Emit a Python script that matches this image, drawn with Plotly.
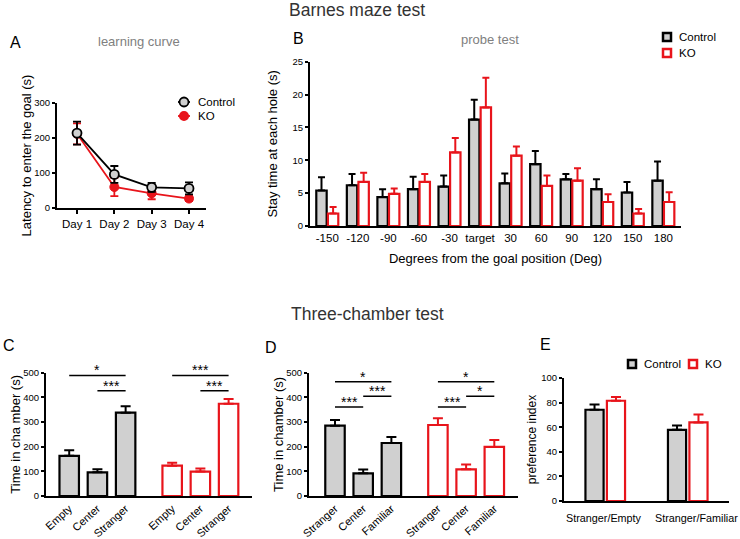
import plotly.graph_objects as go

W, H = 740, 539
FONT = "Arial, Liberation Sans, sans-serif"
RED = "#e8141b"
GREY = "#d0d0d0"

# ---------------- data ----------------
days = ["Day 1", "Day 2", "Day 3", "Day 4"]
a_ctrl = [214, 96, 59, 56]
a_ctrl_err = [33, 24, 13, 17]
a_ko = [212, 60, 42, 27]
a_ko_err = [30, 26, 17, 7]

angles = ["-150", "-120", "-90", "-60", "-30", "target", "30", "60", "90", "120", "150", "180"]
b_ctrl = [5.4, 6.2, 4.4, 5.6, 6.0, 16.2, 6.5, 9.4, 7.1, 5.6, 5.1, 6.9]
b_ctrl_err = [2.0, 1.7, 1.2, 1.9, 1.7, 3.0, 1.5, 2.0, 0.8, 1.5, 1.6, 2.9]
b_ko = [1.9, 6.7, 4.9, 6.7, 11.2, 18.05, 10.7, 6.1, 6.9, 3.65, 1.9, 3.65]
b_ko_err = [1.0, 1.4, 0.8, 1.2, 2.2, 4.5, 1.4, 1.6, 1.9, 1.2, 0.7, 1.5]

c_labels = ["Empty", "Center", "Stranger"]
c_ctrl = [163, 96, 338]
c_ctrl_err = [23, 12, 26]
c_ko = [123, 99, 374]
c_ko_err = [12, 13, 19]
c_sig_ctrl = [(0, 2, "*", 489), (1, 2, "***", 427)]
c_sig_ko = [(0, 2, "***", 489), (1, 2, "***", 427)]

d_labels = ["Stranger", "Center", "Familiar"]
d_ctrl = [285, 92, 215]
d_ctrl_err = [23, 15, 24]
d_ko = [288, 108, 199]
d_ko_err = [27, 20, 28]
d_sig_ctrl = [(0, 2, "*", 463), (1, 2, "***", 404), (0, 1, "***", 361)]
d_sig_ko = [(0, 2, "*", 463), (1, 2, "*", 404), (0, 1, "***", 361)]

e_labels = ["Stranger/Empty", "Stranger/Familiar"]
e_ctrl = [74.2, 57.9]
e_ctrl_err = [4.3, 3.5]
e_ko = [81.5, 63.9]
e_ko_err = [3.0, 6.5]

# ---------------- helpers ----------------
def xd(a, b):
    return [a / W, b / W]

def yd(top, bottom):
    return [1 - bottom / H, 1 - top / H]

def px(x):
    return x / W

def py(y):
    return 1 - y / H

def err(arr, color, width=3.5, thick=2):
    return dict(type="data", array=arr, arrayminus=[0] * len(arr), symmetric=False,
                color=color, thickness=thick, width=width)

fig = go.Figure()
shapes = []
annotations = []

# ---------------- Panel A ----------------
xa = list(range(1, len(days) + 1))
fig.add_trace(go.Scatter(
    x=xa, y=a_ko, mode="lines+markers", name="KO", showlegend=False,
    line=dict(color=RED, width=1.8),
    marker=dict(symbol="circle", size=9, color=RED, line=dict(color=RED, width=1)),
    error_y=dict(type="data", array=a_ko_err, color=RED, thickness=1.8, width=4),
    xaxis="x", yaxis="y"))
fig.add_trace(go.Scatter(
    x=xa, y=a_ctrl, mode="lines+markers", name="Control", showlegend=False,
    line=dict(color="black", width=1.8),
    marker=dict(symbol="circle", size=9, color=GREY, line=dict(color="black", width=1.8)),
    error_y=dict(type="data", array=a_ctrl_err, color="black", thickness=1.8, width=4),
    xaxis="x", yaxis="y"))

# ---------------- Panel B ----------------
xb = list(range(len(angles)))
fig.add_trace(go.Bar(
    x=xb, y=b_ctrl, name="Control", showlegend=False, width=0.34, offset=-0.36,
    marker=dict(color=GREY, line=dict(color="black", width=2.2)),
    error_y=err(b_ctrl_err, "black"), xaxis="x2", yaxis="y2"))
fig.add_trace(go.Bar(
    x=xb, y=b_ko, name="KO", showlegend=False, width=0.34, offset=0.02,
    marker=dict(color="white", line=dict(color=RED, width=2.2)),
    error_y=err(b_ko_err, RED), xaxis="x2", yaxis="y2"))

# ---------------- Panel C / D ----------------
GROUP_SHIFT = 3.65
BW = 0.69

def three_chamber(labels, ctrl, ctrl_err, ko, ko_err, xax, yax):
    pc = list(range(len(labels)))
    pk = [p + GROUP_SHIFT for p in pc]
    fig.add_trace(go.Bar(
        x=pc, y=ctrl, showlegend=False, width=BW, offset=-BW / 2,
        marker=dict(color=GREY, line=dict(color="black", width=2.2)),
        error_y=err(ctrl_err, "black", width=5), xaxis=xax, yaxis=yax))
    fig.add_trace(go.Bar(
        x=pk, y=ko, showlegend=False, width=BW, offset=-BW / 2,
        marker=dict(color="white", line=dict(color=RED, width=2.2)),
        error_y=err(ko_err, RED, width=5), xaxis=xax, yaxis=yax))
    return pc + pk, labels + labels

c_tickvals, c_ticktext = three_chamber(c_labels, c_ctrl, c_ctrl_err, c_ko, c_ko_err, "x3", "y3")
d_tickvals, d_ticktext = three_chamber(d_labels, d_ctrl, d_ctrl_err, d_ko, d_ko_err, "x4", "y4")

def add_sig(sigs, shift, xref, yref):
    for a, b, t, lvl in sigs:
        shapes.append(dict(type="line", xref=xref, yref=yref, x0=a + shift, x1=b + shift,
                           y0=lvl, y1=lvl, line=dict(color="black", width=1.5)))
        annotations.append(dict(xref=xref, yref=yref, x=(a + b) / 2 + shift, y=lvl,
                                text=t, showarrow=False, yanchor="bottom", yshift=-5,
                                font=dict(family=FONT, size=14, color="black")))

add_sig(c_sig_ctrl, 0, "x3", "y3")
add_sig(c_sig_ko, GROUP_SHIFT, "x3", "y3")
add_sig(d_sig_ctrl, 0, "x4", "y4")
add_sig(d_sig_ko, GROUP_SHIFT, "x4", "y4")

# ---------------- Panel E ----------------
xe = list(range(len(e_labels)))
fig.add_trace(go.Bar(
    x=xe, y=e_ctrl, name="Control", showlegend=False, width=0.22, offset=-0.24,
    marker=dict(color=GREY, line=dict(color="black", width=2.2)),
    error_y=err(e_ctrl_err, "black", width=5), xaxis="x5", yaxis="y5"))
fig.add_trace(go.Bar(
    x=xe, y=e_ko, name="KO", showlegend=False, width=0.22, offset=0.02,
    marker=dict(color="white", line=dict(color=RED, width=2.2)),
    error_y=err(e_ko_err, RED, width=5), xaxis="x5", yaxis="y5"))
e_label_shift = [-1, 9]
for xi, lab, sh in zip(xe, e_labels, e_label_shift):
    annotations.append(dict(xref="x5", yref="paper", x=xi, y=1 - 518 / H, text=lab,
                            showarrow=False, xanchor="center", yanchor="middle", xshift=sh,
                            font=dict(family=FONT, size=10.8, color="black")))

# ---------------- axes ----------------
ytickfont = dict(family=FONT, size=9.5, color="black")
def ytitle(s, size=13, standoff=0):
    return dict(text=s, font=dict(family=FONT, size=size, color="black"), standoff=standoff)

base_y = dict(showline=True, linecolor="black", linewidth=2, ticks="outside", ticklen=3,
              tickwidth=1.5, tickcolor="black", showgrid=False, zeroline=False,
              tickfont=ytickfont, fixedrange=True, automargin=False)
base_x = dict(showline=True, linecolor="black", linewidth=2, showgrid=False, zeroline=False,
              fixedrange=True, automargin=False)

layout_axes = dict(
    xaxis=dict(base_x, domain=xd(57, 206), range=[0.464, 4.455], tickvals=xa, ticktext=days,
               ticks="outside", ticklen=4, tickwidth=1.5, tickcolor="black", anchor="y",
               tickfont=dict(family=FONT, size=11.5, color="black")),
    yaxis=dict(base_y, domain=yd(103, 208), range=[0, 300], tickvals=[0, 100, 200, 300], anchor="x",
               title=ytitle("Latency to enter the goal (s)", standoff=0)),
    xaxis2=dict(base_x, domain=xd(310, 681), range=[-0.566, 11.578], tickvals=xb, ticktext=angles,
                ticks="", anchor="y2", tickfont=dict(family=FONT, size=11.5, color="black"),
                title=dict(text="Degrees from the goal position (Deg)", standoff=11,
                           font=dict(family=FONT, size=13, color="black"))),
    yaxis2=dict(base_y, domain=yd(61.7, 226), range=[0, 25], tickvals=[0, 5, 10, 15, 20, 25], anchor="x2",
                title=ytitle("Stay time at each hole (s)", standoff=12)),
    xaxis3=dict(base_x, domain=xd(46, 252), range=[-0.823, 6.48], tickvals=c_tickvals, ticktext=c_ticktext,
                ticks="", tickangle=-42, anchor="y3", tickfont=dict(family=FONT, size=11, color="black")),
    yaxis3=dict(base_y, domain=yd(372.7, 496), range=[0, 500], tickvals=[0, 100, 200, 300, 400, 500], anchor="x3",
                title=ytitle("Time in cha mber (s)", standoff=0)),
    xaxis4=dict(base_x, domain=xd(309, 518), range=[-0.922, 6.49], tickvals=d_tickvals, ticktext=d_ticktext,
                ticks="", tickangle=-42, anchor="y4", tickfont=dict(family=FONT, size=11, color="black")),
    yaxis4=dict(base_y, domain=yd(372.7, 496), range=[0, 500], tickvals=[0, 100, 200, 300, 400, 500], anchor="x4",
                title=ytitle("Time in chamber (s)", standoff=0)),
    xaxis5=dict(base_x, domain=xd(564, 729), range=[-0.5, 1.5], tickvals=xe, showticklabels=False,
                ticks="", anchor="y5"),
    yaxis5=dict(base_y, domain=yd(378, 501), range=[0, 100], tickvals=[0, 20, 40, 60, 80, 100], anchor="x5",
                title=ytitle("preference index", size=12, standoff=2)),
)

# ---------------- text ----------------
def txt(x, y, s, size, color="black", xanchor="center"):
    annotations.append(dict(xref="paper", yref="paper", x=px(x), y=py(y), text=s, showarrow=False,
                            xanchor=xanchor, yanchor="middle",
                            font=dict(family=FONT, size=size, color=color)))

txt(357, 10, "Barnes maze test", 17.5, "#333333")
txt(367, 314, "Three-chamber test", 17.5, "#333333")
txt(139, 41, "learning curve", 13, "#808080")
txt(490, 40, "probe test", 13, "#808080")
txt(15, 42, "A", 16)
txt(298, 38, "B", 16)
txt(9, 345, "C", 16)
txt(271, 347, "D", 16)
txt(545, 344, "E", 16)

# ---------------- custom legends ----------------
def leg_square(cx, cy, fill, line, label):
    s = 4
    shapes.append(dict(type="rect", xref="paper", yref="paper",
                       x0=px(cx - s), x1=px(cx + s), y0=py(cy + s), y1=py(cy - s),
                       fillcolor=fill, line=dict(color=line, width=2.5)))
    txt(cx + 10, cy, label, 11.5, xanchor="left")

def leg_line(cx, cy, fill, line, label, r):
    shapes.append(dict(type="line", xref="paper", yref="paper",
                       x0=px(cx - 6), x1=px(cx + 6), y0=py(cy), y1=py(cy),
                       line=dict(color=line, width=1.8)))
    shapes.append(dict(type="circle", xref="paper", yref="paper",
                       x0=px(cx - r), x1=px(cx + r), y0=py(cy + r), y1=py(cy - r),
                       fillcolor=fill, line=dict(color=line, width=1.8)))
    txt(cx + 12, cy, label, 11.5, xanchor="left")

leg_line(184, 102, GREY, "black", "Control", 4.5)
leg_line(184, 116, RED, RED, "KO", 4.2)
leg_square(667, 37, GREY, "black", "Control")
leg_square(667, 53, "white", RED, "KO")
leg_square(632, 364, GREY, "black", "Control")
leg_square(693, 364, "white", RED, "KO")

fig.update_layout(
    width=W, height=H, margin=dict(l=0, r=0, t=0, b=0),
    paper_bgcolor="white", plot_bgcolor="white",
    showlegend=False,
    shapes=shapes, annotations=annotations,
    **layout_axes,
)

fig.write_html("out.html", config={"displayModeBar": False},
               post_script="document.body.style.margin='0';document.body.style.overflow='hidden';")
